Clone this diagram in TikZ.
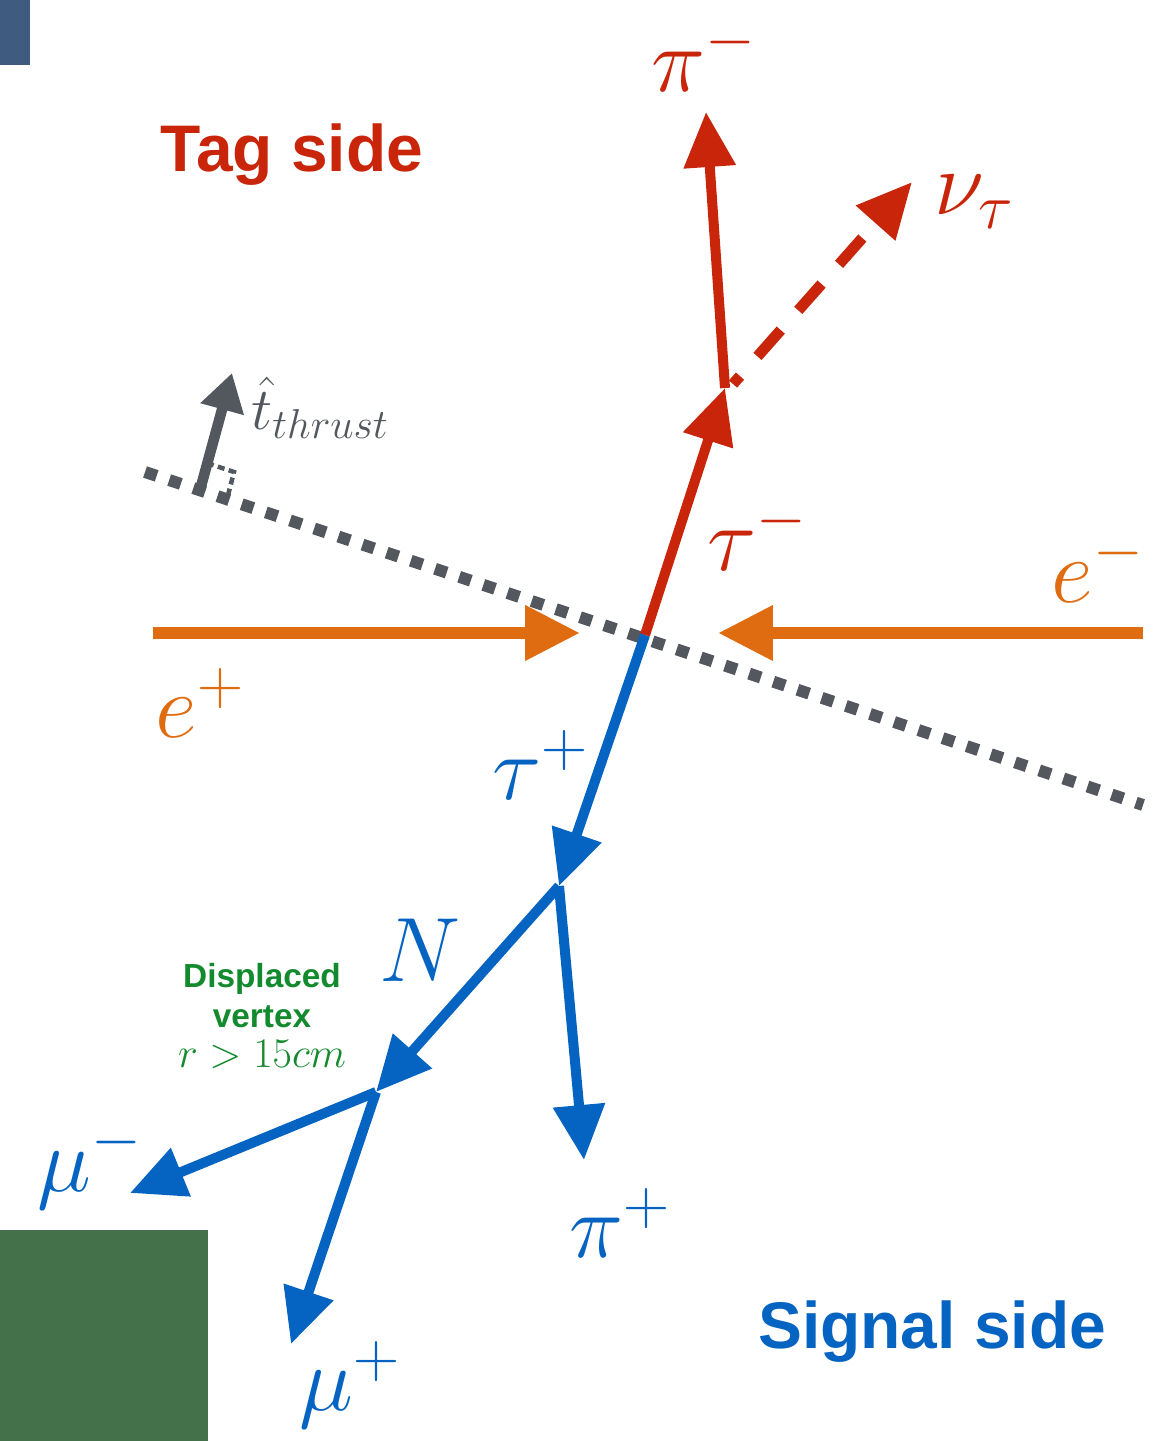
\RequirePackage{fix-cm}
\documentclass[tikz,border=0pt]{standalone}
\usepackage{fontspec}
\setsansfont{Liberation Sans}
\usetikzlibrary{arrows.meta, positioning}
\definecolor{tagred}{RGB}{200, 37, 10}
\definecolor{beamorange}{RGB}{224, 108, 18}
\definecolor{signalblue}{RGB}{5, 100, 193}
\definecolor{thrustgray}{RGB}{83, 87, 94}
\definecolor{dvgreen}{RGB}{20, 138, 46}
\definecolor{cornerblue}{RGB}{63, 92, 128}
\definecolor{cornergreen}{RGB}{68, 112, 74}

\begin{document}
\begin{tikzpicture}[x=0.02cm, y=-0.02cm,
    track/.style={line width=5.7pt, -{Triangle[length=1.1cm,width=1.0cm]}},
    beam/.style={line width=6.8pt, beamorange, -{Triangle[length=1.1cm,width=1.05cm]}},
    plabel/.style={font=\fontsize{52}{60}\selectfont, inner sep=0pt},
    sidelabel/.style={font=\sffamily\bfseries\fontsize{37.5}{44}\selectfont}]
\useasboundingbox (0,0) rectangle (1154,1441);

% corner patches
\fill[cornerblue] (0,0) rectangle (30,65);
\fill[cornergreen] (0,1230) rectangle (208,1441);

% vertices and track ends
\coordinate (ip) at (645,635);
\coordinate (taudk) at (725,388);
\coordinate (sv) at (559,886);
\coordinate (dv) at (376,1092);
\coordinate (pimtip) at (706,112);
\coordinate (nustart) at (733,384);
\coordinate (nutip) at (912,182);
\coordinate (piptip) at (584,1160);
\coordinate (mumtip) at (130,1193);
\coordinate (muptip) at (291,1344);
\coordinate (epstart) at (153,633);
\coordinate (eptip) at (580,633);
\coordinate (emstart) at (1143,633);
\coordinate (emtip) at (718,633);

% thrust axis
\coordinate (axA) at (145,472);
\coordinate (axB) at (1143,805);
\coordinate (thbase) at (200,490);
\coordinate (thtip) at (232,373);
\draw[thrustgray, line width=6.8pt, dash pattern=on 7pt off 7.5pt] (axA) -- (axB);
\draw[thrustgray, line width=6pt, -{Triangle[length=0.75cm,width=0.85cm]}] (thbase) -- (thtip);
\draw[thrustgray, line width=2.6pt, dash pattern=on 4pt off 2.5pt] (207,463) -- (234,472) -- (227,499);
\node[thrustgray, font=\fontsize{34}{40}\selectfont] (thr) at (320,408) {$\hat{t}_{thrust}$};

% beams
\draw[beam] (epstart) -- (eptip);
\draw[beam] (emstart) -- (emtip);
\node[plabel, text=beamorange] (ep) at (200,703) {$e^+$};
\node[plabel, text=beamorange] (em) at (1098,567) {$e^-$};

% tag side
\draw[track, tagred] (ip) -- (taudk);
\draw[track, tagred] (taudk) -- (pimtip);
\draw[track, tagred, line width=6.2pt, dash pattern=on 20pt off 15pt, dash phase=14pt] (nustart) -- (nutip);
\node[plabel, text=tagred] (taum) at (757,535) {$\tau^-$};
\node[plabel, text=tagred] (pim) at (704,56) {$\pi^-$};
\node[plabel, text=tagred] (nu) at (974,202) {$\nu_\tau$};
\node[sidelabel, text=tagred] (tag) at (292,155) {Tag side};

% signal side
\draw[track, signalblue] (ip) -- (sv);
\draw[track, signalblue] (sv) -- (piptip);
\draw[track, signalblue] (sv) -- (dv);
\draw[track, signalblue] (dv) -- (mumtip);
\draw[track, signalblue] (dv) -- (muptip);
\node[plabel, text=signalblue] (taup) at (540,765) {$\tau^+$};
\node[plabel, text=signalblue] (hnl) at (420,950) {$N$};
\node[plabel, text=signalblue] (pip) at (620,1223) {$\pi^+$};
\node[plabel, text=signalblue] (mum) at (90,1165) {$\mu^-$};
\node[plabel, text=signalblue] (mup) at (350,1385) {$\mu^+$};
\node[text=dvgreen, align=center, font=\sffamily\bfseries\fontsize{19}{23}\selectfont] (dvtext) at (262,1016)
  {Displaced\\vertex\\{\normalfont\fontsize{24}{26}\selectfont $r>15cm$}};
\node[sidelabel, text=signalblue] (sig) at (932,1332) {Signal side};
\end{tikzpicture}
\end{document}
